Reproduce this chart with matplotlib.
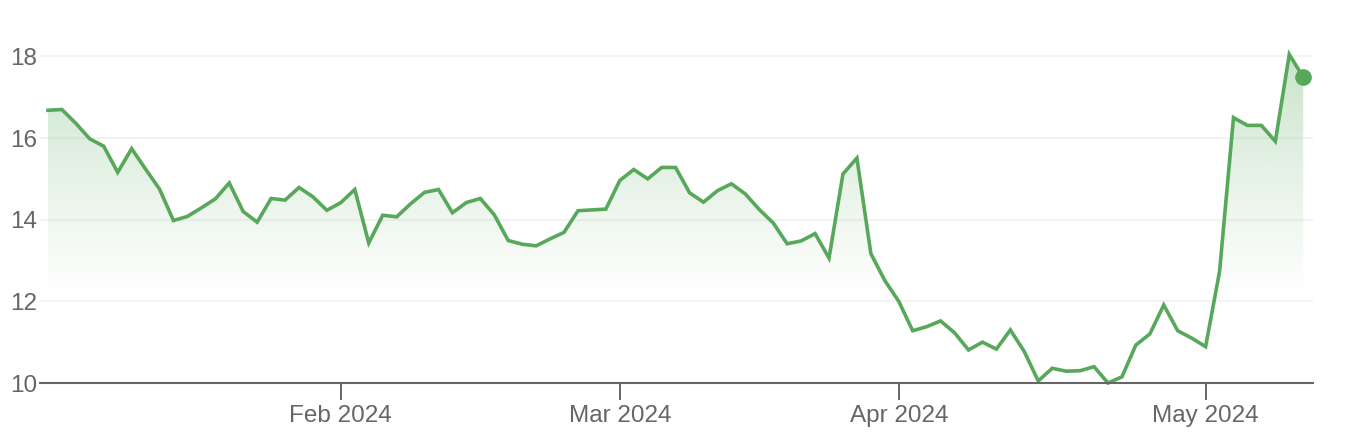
import numpy as np
import pandas as pd
import matplotlib
matplotlib.use("Agg")
import matplotlib.pyplot as plt

plt.rcParams['font.family'] = ['Liberation Sans', 'DejaVu Sans']

# trading days Jan 2 - May 10 2024 (US market holidays removed)
holidays = ['2024-01-15', '2024-02-19', '2024-03-29']
dates = pd.bdate_range('2024-01-02', '2024-05-10', freq='C', holidays=holidays)

prices = [16.68, 16.70, 16.36, 15.98, 15.80, 15.16, 15.74, 15.24, 14.75, 13.98,
          14.08, 14.29, 14.51, 14.90, 14.20, 13.94, 14.52, 14.48, 14.79, 14.56,
          14.23, 14.42, 14.74, 13.43, 14.11, 14.07, 14.39, 14.67, 14.74, 14.17,
          14.42, 14.52, 14.12, 13.49, 13.40, 13.36, 13.53, 13.69, 14.22, 14.24,
          14.26, 14.96, 15.23, 15.00, 15.28, 15.28, 14.66, 14.43, 14.71, 14.88,
          14.63, 14.25, 13.92, 13.41, 13.48, 13.66, 13.06, 15.12, 15.51, 13.17,
          12.51, 12.00, 11.28, 11.38, 11.52, 11.23, 10.81, 11.00, 10.83, 11.30,
          10.77, 10.05, 10.36, 10.29, 10.30, 10.40, 10.00, 10.15, 10.93, 11.20,
          11.91, 11.28, 11.10, 10.89, 12.73, 16.50, 16.31, 16.31, 15.92, 18.05,
          17.49]

month_ticks = ['2024-02-01', '2024-03-01', '2024-04-01', '2024-05-01']
yticks = [10, 12, 14, 16, 18]

green = '#57a85b'
grey = '#666666'

x = np.arange(len(dates))
y = np.array(prices)

fig = plt.figure(figsize=(13.5, 4.4), dpi=100)
ax = fig.add_axes([40/1350, (440-383)/440, (1313-40)/1350, (383-36)/440])

ax.set_xlim(-0.57, len(dates) - 1 + 0.7)
ax.set_ylim(10, 18.5)

# gradient fill under the line
ymin, ymax = ax.get_ylim()
yy = np.linspace(ymin, ymax, 300)
alpha = np.clip((yy - 12.0) / (18.5 - 12.0), 0, 1) ** 1.1 * 0.34
rgba = np.zeros((len(yy), 2, 4))
rgba[..., :3] = matplotlib.colors.to_rgb(green)
rgba[..., 3] = alpha[:, None]
poly = ax.fill_between(x, y, ymin, color='none', lw=0)
img = ax.imshow(rgba, extent=[x[0], x[-1], ymin, ymax], origin='lower',
                aspect='auto', interpolation='bilinear', zorder=1)
img.set_clip_path(poly.get_paths()[0], transform=ax.transData)

ax.plot(x, y, color=green, lw=2.6, zorder=3, clip_on=False, solid_joinstyle='miter')
ax.plot(x[-1], y[-1], 'o', color=green, ms=11, zorder=4, clip_on=False)

# grid
for v in yticks[1:]:
    ax.axhline(v, color='#f3f3f3', lw=1.5, zorder=0)

ax.set_yticks(yticks)
ax.set_yticklabels([str(v) for v in yticks])
tick_pos = [dates.get_indexer([pd.Timestamp(d)], method='bfill')[0] for d in month_ticks]
ax.set_xticks(tick_pos)
ax.set_xticklabels([pd.Timestamp(d).strftime('%b %Y') for d in month_ticks])

ax.tick_params(axis='y', length=0, pad=2, labelsize=17.5, labelcolor=grey)
ax.tick_params(axis='x', length=12, width=1.4, color=grey, pad=4,
               labelsize=17.5, labelcolor=grey)

for s in ['top', 'right', 'left']:
    ax.spines[s].set_visible(False)
ax.spines['bottom'].set_color(grey)
ax.spines['bottom'].set_linewidth(1.5)
ax.spines['bottom'].set_zorder(5)

fig.savefig('out.png', dpi=100, facecolor='white')
